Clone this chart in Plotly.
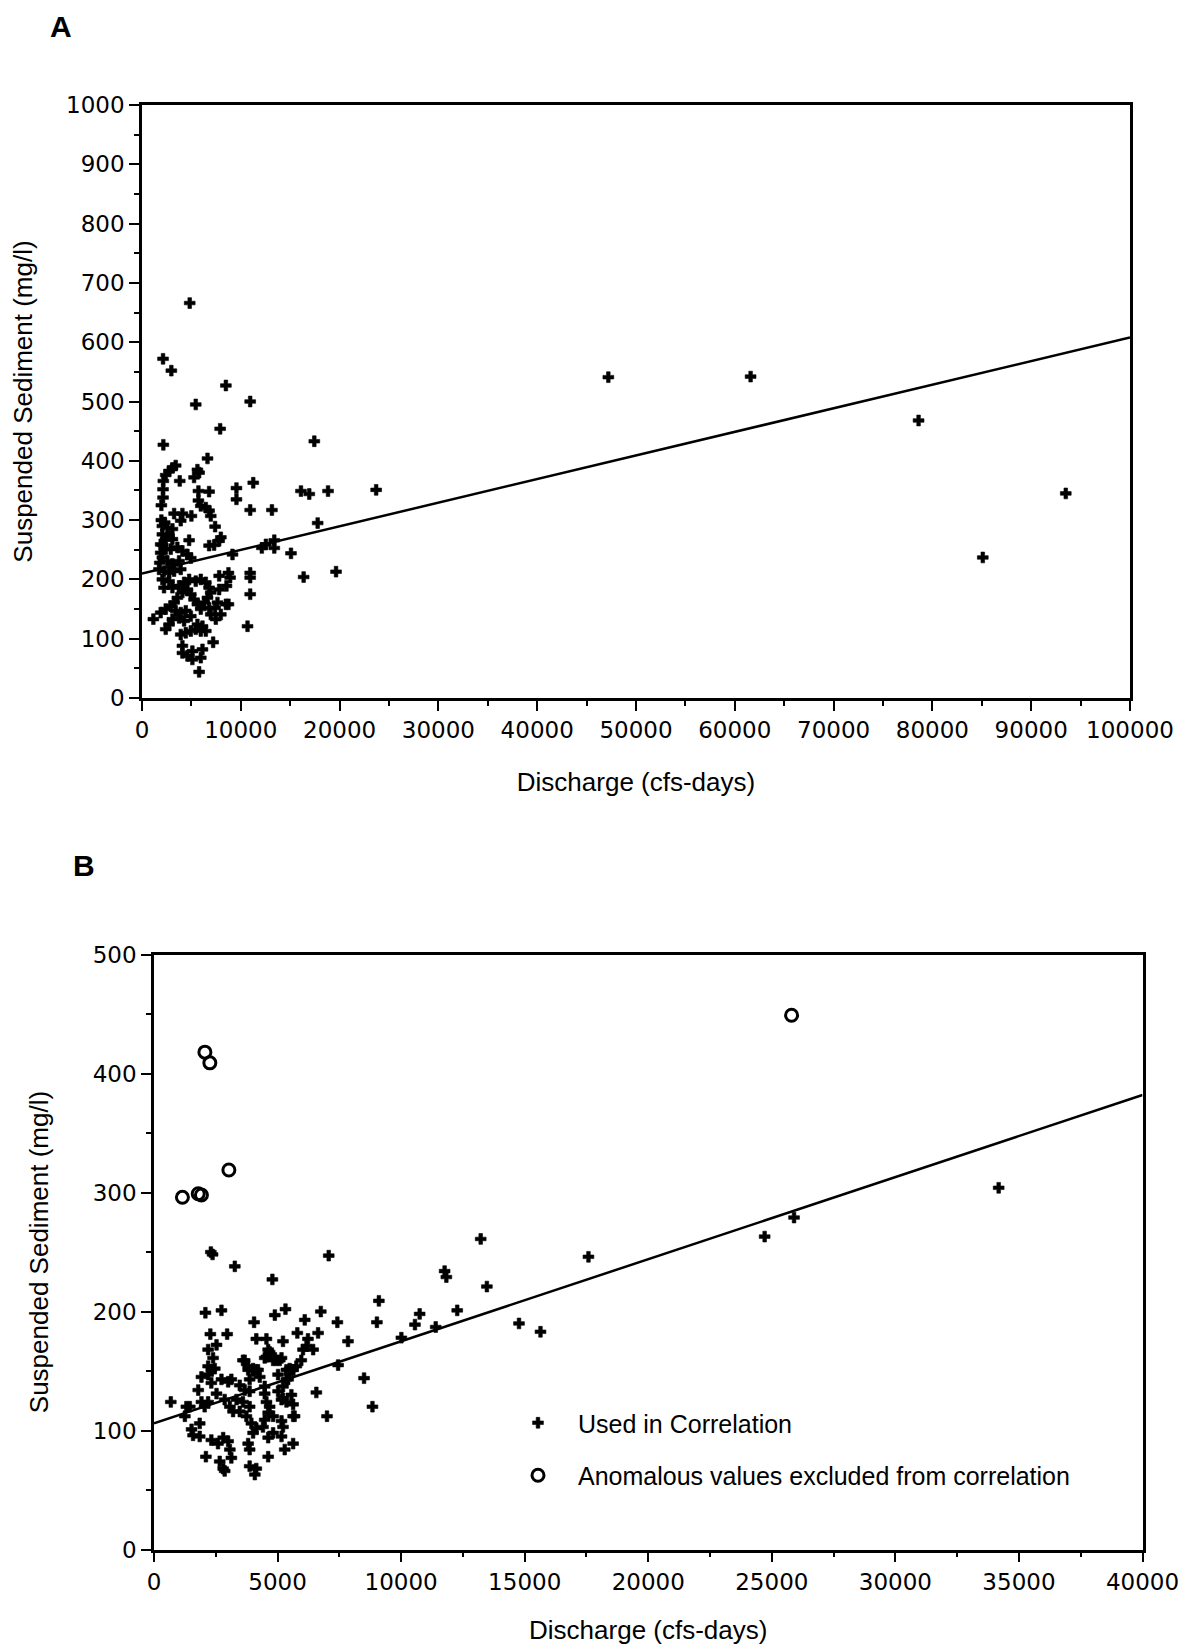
import plotly.graph_objects as go

# ---------------- Panel A data (Discharge cfs-days, Suspended sediment mg/l) ----------------
a_x = [4830, 2130, 2970, 8490, 5440, 10950, 7910, 2160, 17440, 6630,
       3410, 3080, 2740, 2400, 2160, 2130, 2130, 1960, 3820, 5610,
       5270, 5780, 5710, 6790, 9560, 9560, 11260, 16090, 16930, 18830,
       23700, 5710, 5950, 6460, 6790, 6960, 3250, 4090, 5000, 10950,
       13150, 3920, 7400, 17780, 4770, 6790, 7300, 7810, 7980, 9160,
       12130, 12540, 13390, 13390, 15080, 10950, 10950, 10950, 10680, 16360,
       19640, 7810, 8750, 8920, 8550, 8750, 7810, 7640, 7400, 7200,
       1150, 5780,
       2060, 2570, 3080, 2060, 2740, 2400, 3080, 1890, 2400, 2910,
       3580, 4090, 4600, 4940, 1890, 2060, 2570, 3080, 3750, 1720,
       2230, 2740, 3250, 3920, 2060, 2740, 2230, 3080, 3750, 4260,
       4770, 5440, 5950, 6460, 6790, 6960, 6630, 6290, 6790, 6960,
       4600, 4940, 5270, 5610, 5950, 4090, 3580, 3250, 2910, 2400,
       1890, 3410, 3920, 4430, 4940, 3750, 4260, 3080, 2740, 2400,
       3920, 4430, 4940, 5440, 5950, 6460, 5610, 6120, 4090, 4090,
       4600, 5100, 5950, 6120, 5100, 7470, 7980, 8490,
       1960, 2300, 1800, 2100,
       47200, 61600, 78600, 93500, 85100]
a_y = [666, 572, 552, 527, 495, 500, 454, 427, 433, 404,
       392, 388, 383, 376, 366, 352, 338, 325, 366, 385,
       372, 380, 349, 348, 354, 335, 363, 349, 344, 349,
       351, 333, 324, 321, 316, 307, 311, 311, 307, 317,
       317, 299, 289, 295, 266, 257, 258, 265, 271, 242,
       253, 259, 266, 253, 244, 211, 203, 175, 121, 204,
       213, 206, 211, 203, 189, 158, 183, 161, 152, 94,
       133, 44,
       290, 287, 285, 276, 273, 268, 268, 259, 251, 251,
       254, 248, 242, 236, 245, 237, 231, 226, 231, 217,
       214, 211, 214, 217, 200, 197, 186, 186, 189, 195,
       200, 197, 200, 195, 186, 178, 169, 161, 152, 141,
       183, 175, 166, 158, 150, 178, 169, 161, 155, 150,
       144, 147, 144, 147, 138, 135, 130, 133, 124, 116,
       107, 110, 113, 116, 113, 113, 124, 121, 88, 76,
       71, 65, 68, 82, 79, 133, 141, 158,
       300, 296, 228, 258,
       541, 542, 468, 345, 237]
a_fit_x = [0, 100000]
a_fit_y = [210, 608]

# ---------------- Panel B data ----------------
b_used_x = [2300, 2370, 3270, 4790, 7070, 13220, 11760, 11830, 13470, 2080,
            2730, 4890, 5320, 6750, 4050, 6100, 7420, 9100, 9020, 10750,
            10560, 11400, 12270, 14770, 15640, 17580, 24710, 25900, 34180,
            2960, 2280, 4140, 4550, 5220, 5800, 6230, 6640, 7850, 10010,
            2190, 2530, 2390, 4620, 4750, 4480, 4950, 6030, 6440, 5960,
            6170, 3670, 4010, 4210, 3810, 2320, 7450, 8500, 8840, 6570,
            7000, 680, 1250, 1450, 5360, 5560, 5090, 5020, 5430,
            2100, 2660, 2800, 2860, 3870, 4140, 4080, 4620, 3070, 3130,
            1580, 1850, 1520, 2320, 2590, 2800, 3000, 3810, 3870, 4010,
            4140, 4410, 4620, 4820, 5160, 5290, 5630, 4480, 4820, 5160,
            5220, 5630, 1850, 1310, 1920, 2050, 2190, 1790, 1920, 2190,
            2320, 2730, 3000, 3130, 2530, 2860, 3070, 3200, 3340, 3470,
            3670, 3870, 3870, 4010, 4140, 4280, 4480, 4480, 4550, 4680,
            4620, 3600, 3870, 3470, 3740, 3940, 5020, 5220, 5360, 5560,
            5160, 5630, 5690, 2190, 2460, 3600, 3810, 4550, 4680, 4820,
            5160, 5490, 5760, 5630, 5490, 5360, 5220]
b_used_y = [250, 248, 238, 227, 247, 261, 234, 229, 221, 199,
            201, 197, 202, 200, 191, 193, 191, 209, 191, 198,
            189, 187, 201, 190, 183, 246, 263, 279, 304,
            181, 181, 177, 177, 175, 182, 177, 182, 175, 178,
            168, 172, 161, 168, 164, 161, 159, 168, 168, 159,
            171, 159, 152, 151, 151, 151, 155, 144, 120, 132,
            112, 124, 112, 120, 151, 151, 159, 147, 143,
            78, 74, 68, 66, 70, 68, 63, 78, 84, 77,
            96, 95, 101, 92, 89, 94, 91, 89, 84, 98,
            102, 103, 94, 98, 95, 84, 89, 109, 112, 108,
            103, 112, 106, 120, 124, 120, 124, 134, 145, 147,
            140, 143, 141, 143, 131, 126, 120, 116, 126, 138,
            134, 133, 143, 150, 151, 145, 137, 131, 124, 120,
            115, 124, 120, 116, 112, 106, 133, 127, 124, 130,
            126, 122, 112, 154, 152, 159, 154, 162, 166, 159,
            161, 152, 154, 151, 148, 143, 137]
b_anom_x = [1150, 1790, 1920, 3030, 2060, 2260, 25800]
b_anom_y = [296, 299, 298, 319, 418, 409, 449]
b_fit_x = [0, 40000]
b_fit_y = [106, 382]

# ---------------- Figure ----------------
# The page body adds an 8 px margin, so the figure is laid out in its own
# coordinates (page pixel - 8).
W, H = 1187, 1637
OFF = 8
TICK_FONT = dict(family="DejaVu Sans", size=23, color="black")
TITLE_FONT = dict(family="Liberation Sans", size=26, color="black")


def px_x(v):
    return (v - OFF) / W


def px_y(v):
    return 1 - (v - OFF) / H


fig = go.Figure()
fig.add_trace(go.Scatter(x=a_x, y=a_y, mode="markers", xaxis="x", yaxis="y",
                         marker=dict(symbol="cross", size=9, color="black",
                                     line=dict(width=0.6, color="black")),
                         showlegend=False, cliponaxis=False))
fig.add_trace(go.Scatter(x=a_fit_x, y=a_fit_y, mode="lines", xaxis="x", yaxis="y",
                         line=dict(color="black", width=2.5), showlegend=False))
fig.add_trace(go.Scatter(x=b_used_x, y=b_used_y, mode="markers", xaxis="x2", yaxis="y2",
                         name="Used in Correlation", legendgroup="g1",
                         marker=dict(symbol="cross", size=9, color="black",
                                     line=dict(width=0.6, color="black"))))
fig.add_trace(go.Scatter(x=b_anom_x, y=b_anom_y, mode="markers", xaxis="x2", yaxis="y2",
                         name="Anomalous values excluded from correlation", legendgroup="g2",
                         marker=dict(symbol="circle-open", size=12, color="black",
                                     line=dict(width=3, color="black"))))
fig.add_trace(go.Scatter(x=b_fit_x, y=b_fit_y, mode="lines", xaxis="x2", yaxis="y2",
                         line=dict(color="black", width=2.5), showlegend=False))


def axis(domain, rng, dtick, minor_dtick, anchor, title, standoff):
    return dict(domain=domain, range=rng, dtick=dtick, tick0=0, anchor=anchor,
                automargin=False,
                showline=True, linecolor="black", linewidth=2.5, mirror=True,
                ticks="outside", ticklen=10, tickwidth=2, tickcolor="black",
                showgrid=False, zeroline=False, tickformat="d",
                tickfont=TICK_FONT,
                minor=dict(dtick=minor_dtick, tick0=0, ticks="outside", ticklen=5,
                           tickwidth=2, tickcolor="black", showgrid=False),
                title=dict(text=title, font=TITLE_FONT, standoff=standoff))


fig.update_layout(
    width=W, height=H,
    margin=dict(l=0, r=0, t=0, b=0, autoexpand=False),
    paper_bgcolor="white", plot_bgcolor="white",
    xaxis=axis([px_x(142), px_x(1130)], [0, 100000], 10000, 5000, "y",
               "Discharge (cfs-days)", 31),
    yaxis=axis([px_y(698), px_y(105)], [0, 1000], 100, 50, "x",
               "Suspended Sediment (mg/l)", 28),
    xaxis2=axis([px_x(154), px_x(1142.5)], [0, 40000], 5000, 2500, "y2",
                "Discharge (cfs-days)", 30),
    yaxis2=axis([px_y(1549.5), px_y(954.6)], [0, 500], 100, 50, "x2",
                "Suspended Sediment (mg/l)", 37),
    legend=dict(x=px_x(498), y=px_y(1400), xanchor="left", yanchor="top",
                font=dict(family="Liberation Sans", size=25, color="black"),
                bgcolor="rgba(0,0,0,0)", tracegroupgap=17, itemwidth=70),
    annotations=[
        dict(text="<b>A</b>", x=px_x(61), y=1.0, xref="paper", yref="paper",
             xanchor="center", yanchor="top", showarrow=False,
             font=dict(family="Liberation Sans", size=30, color="black")),
        dict(text="<b>B</b>", x=px_x(84), y=px_y(865), xref="paper", yref="paper",
             xanchor="center", yanchor="middle", showarrow=False,
             font=dict(family="Liberation Sans", size=30, color="black")),
    ],
)

fig.write_html("out.html")
